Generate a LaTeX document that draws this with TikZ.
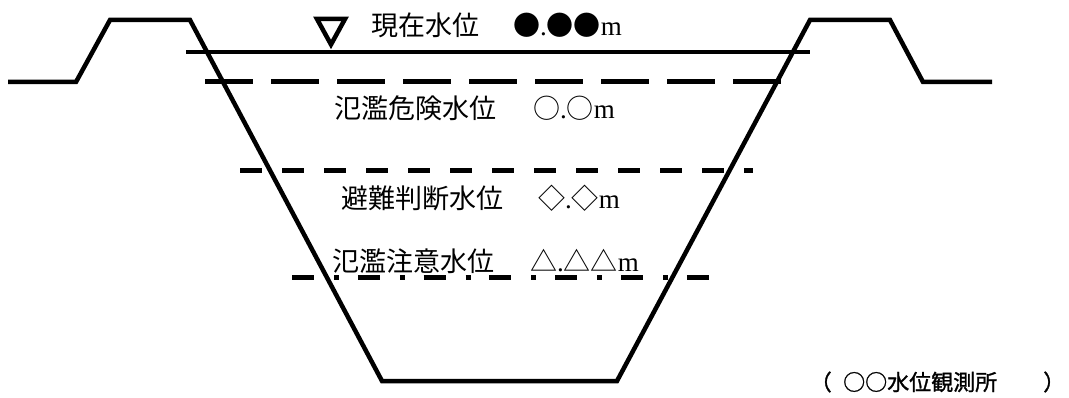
\documentclass[tikz,border=0pt]{standalone}
\usepackage{fontspec}
\setmainfont{Liberation Serif}
\newfontfamily\jp{Noto Sans CJK JP}
\newfontfamily\jpb{Noto Sans CJK JP}[FakeBold=1.2]
\begin{document}
\begin{tikzpicture}[x=1pt,y=-1pt,
  bank/.style={line width=4.5pt, line join=miter},
  wline/.style={line width=4.5pt},
  danger/.style={line width=5pt, dash pattern=on 48pt off 18pt},
  judge/.style={line width=5pt, dash pattern=on 22pt off 20pt},
  caution/.style={line width=5pt, dash pattern=on 22pt off 20pt on 5pt off 18.8pt},
  lbl/.style={inner sep=0pt, anchor=west, font=\fontsize{27}{30}\selectfont},
  stn/.style={inner sep=0pt, font=\fontsize{22}{25}\selectfont\jpb}]
\useasboundingbox (0,0) rectangle (1069,398);
% cross-section of the river channel and banks
\draw[bank] (8,82) -- (76,82) -- (110,20) -- (190,20) -- (382,381) -- (617,381)
  -- (810,20) -- (890,20) -- (923,82) -- (992,82);
% water levels
\draw[wline] (186,52) -- (810,52);
\draw[danger] (205,82) -- (781,82);
\draw[judge] (240,171) -- (753,171);
\draw[caution] (292,278) -- (712,278);
% water surface marker
\draw[line width=4.5pt, line join=miter] (317,19) -- (345,19) -- (331,44.5) -- cycle;
% labels
\node[lbl] (cur) at (371,25) {\jp 現在水位};
\node[lbl] (curv) at (513,25) {{\jp ●}.{\jp ●●}m};
\node[lbl] (dan) at (334,108) {\jp 氾濫危険水位};
\node[lbl] (danv) at (533,108) {{\jp ○}.{\jp ○}m};
\node[lbl] (jud) at (341,198) {\jp 避難判断水位};
\node[lbl] (judv) at (538,198) {{\jp ◇}.{\jp ◇}m};
\node[lbl] (cau) at (332,261) {\jp 氾濫注意水位};
\node[lbl] (cauv) at (530,261) {{\jp △}.{\jp △△}m};
% station name
\node[stn, anchor=east] (po) at (832,382) {（};
\node[stn, anchor=west] (st) at (843,382) {○○水位観測所};
\node[stn, anchor=west] (pc) at (1043,382) {）};
\end{tikzpicture}
\end{document}
